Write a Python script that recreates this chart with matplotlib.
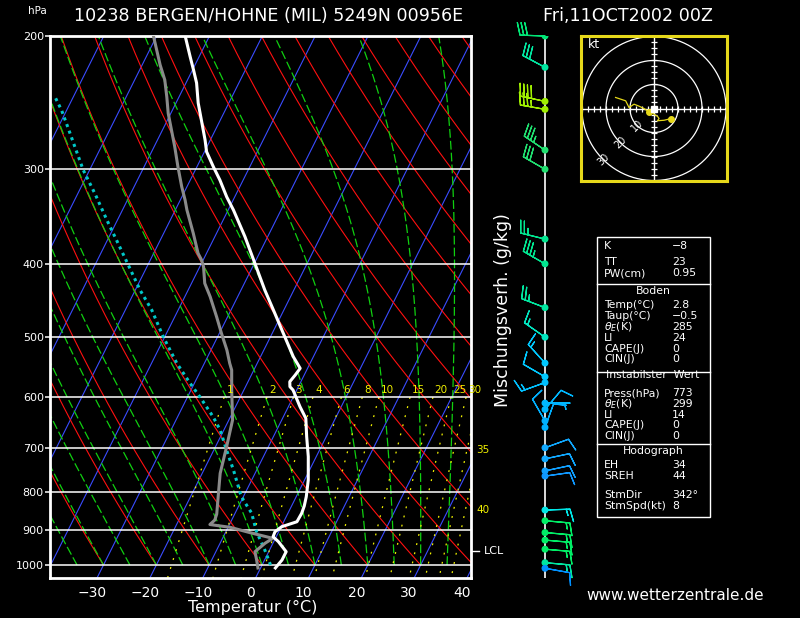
import numpy as np
import matplotlib
matplotlib.use("Agg")
import matplotlib.pyplot as plt
from matplotlib.transforms import ScaledTranslation, blended_transform_factory

# ---------------- data ----------------
temp_p = [200.0, 213.0, 221.8, 230.7, 245.2, 260.6, 274.4, 284.4, 297.7, 310.0,
          326.4, 339.6, 368.3, 399.4, 433.2, 465.0, 494.2, 530.6, 549.7, 561.0,
          572.5, 581.3, 587.2, 617.8, 640.0, 676.8, 719.3, 772.1, 812.3, 835.7,
          854.4, 876.6, 890.0, 903.6, 917.5, 931.6, 960.3, 984.9, 1009.0]
temp_t = [-64.6, -61.7, -59.8, -58.0, -55.8, -53.2, -51.0, -49.6, -46.9, -44.4,
          -41.5, -39.0, -34.3, -29.9, -25.5, -21.4, -17.9, -13.8, -11.4, -11.7,
          -12.1, -11.6, -10.7, -7.8, -5.6, -3.7, -1.5, 0.7, 1.9, 2.4,
          2.6, 2.5, 0.1, -0.7, -0.6, 0.9, 3.3, 3.3, 2.8]

dew_p = [200.0, 218.4, 228.6, 240.8, 253.0, 266.2, 280.1, 297.7, 316.3, 329.4,
         339.6, 364.5, 387.4, 395.4, 403.5, 424.4, 442.1, 469.8, 494.2, 519.9,
         541.4, 552.5, 587.2, 643.3, 697.7, 756.6, 808.2, 856.3, 872.1, 884.1,
         887.3, 891.6, 906.4, 922.0, 936.1, 960.3, 984.9, 1009.0]
dew_t = [-70.6, -66.6, -64.3, -62.3, -60.5, -58.3, -56.1, -53.6, -51.0, -49.1,
         -47.8, -44.4, -41.6, -40.3, -39.3, -37.5, -35.2, -32.1, -29.6, -27.0,
         -25.2, -24.2, -22.3, -19.3, -17.9, -16.6, -14.9, -13.4, -13.2, -13.7,
         -12.0, -9.6, -5.3, -0.5, -1.5, -2.6, -1.5, -0.5]

parcel_p = [1000.0, 955.4, 903.6, 853.7, 820.5, 804.0, 749.0, 704.8, 663.2, 636.9,
            599.3, 575.4, 541.4, 499.3, 460.3, 433.2, 401.4, 372.0, 350.1, 323.4,
            300.7, 280.1, 264.8, 250.5, 240.6]
parcel_t = [1.6, -0.9, -4.2, -6.9, -9.7, -10.9, -14.4, -17.6, -20.7, -23.3,
            -27.7, -30.8, -35.2, -40.3, -45.0, -49.1, -53.7, -58.3, -62.0, -66.7,
            -71.2, -75.0, -78.0, -81.0, -83.5]

wind_p = [200, 220, 244, 250, 283, 300, 371, 400, 457, 500, 541, 564, 574, 611,
          623, 645, 658, 700, 724, 751, 763, 846, 874, 906, 927, 953, 993, 1010]
wind_dir = [272, 298, 282, 280, 304, 300, 284, 300, 291, 305, 318, 300, 250, 90,
            40, 330, 20, 70, 78, 78, 82, 88, 95, 95, 95, 95, 95, 100]
wind_spd = [30, 30, 40, 35, 35, 30, 25, 35, 25, 15, 15, 10, 15, 5,
            10, 10, 10, 10, 10, 10, 10, 15, 15, 15, 15, 15, 15, 10]
wind_col = ["#00e676", "#00e6a0", "#a0f000", "#a0f000", "#20e070", "#20e070",
            "#00e690", "#00e690", "#00e6a0", "#00e6c0", "#00c8ff", "#00c8ff",
            "#00c0ff", "#00b8ff", "#00b8ff", "#00b0ff", "#00b0ff", "#10a8ff",
            "#10a8ff", "#10a0ff", "#1098ff", "#00e6e6", "#00ee66", "#00ee66",
            "#00ee66", "#00ee66", "#00e6a0", "#0090ff"]

hodo_u = [-16.0, -11.8, -10.4, -8.3, -6.3, -4.2, -2.1, -0.7, 0.0, 1.4, 2.1, 1.4, 4.2, 7.0]
hodo_v = [4.6, 3.2, 0.4, 1.8, 1.0, 0.0, -1.4, -1.4, -2.4, -3.2, -4.2, -5.1, -4.9, -4.2]
hodo_dot_u = [-2.1, 7.0]
hodo_dot_v = [-1.4, -4.2]
hodo_rings = [10, 20, 30]

p_ticks = [200, 300, 400, 500, 600, 700, 800, 900, 1000]
t_ticks = [-30, -20, -10, 0, 10, 20, 30, 40]
mix_ratios = [1, 2, 3, 4, 6, 8, 10, 15, 20, 25, 30, 35, 40]
dry_thetas = list(range(-40, 160, 10))
moist_thetas = list(range(-40, 40, 5))
isotherms = list(range(-140, 50, 10))
lcl_p = 958

title_left = "10238 BERGEN/HOHNE (MIL) 5249N 00956E"
title_right = "Fri,11OCT2002 00Z"

tab1 = [("K", "\u22128"), ("TT", "23"), ("PW(cm)", "0.95")]
tab2 = [("Temp(\u00b0C)", "2.8"), ("Taup(\u00b0C)", "\u22120.5"), (r"$\theta_E$(K)", "285"),
        ("LI", "24"), ("CAPE(J)", "0"), ("CIN(J)", "0")]
tab3 = [("Press(hPa)", "773"), (r"$\theta_E$(K)", "299"), ("LI", "14"),
        ("CAPE(J)", "0"), ("CIN(J)", "0")]
tab4 = [("EH", "34"), ("SREH", "44"), ("StmDir", "342\u00b0"), ("StmSpd(kt)", "8")]

# ---------------- geometry ----------------
W, H = 800, 618
SKEW = 31.1
PB = 1040.0
PBOT, PTOP = 1040.3, 200.0


def skx(t, p):
    return np.asarray(t) + SKEW * np.log(PB / np.asarray(p))


def fx(x):
    return x / W


def fy(y):
    return 1 - y / H


plt.rcParams['font.family'] = ['DejaVu Sans']
fig = plt.figure(figsize=(8, 6.18), dpi=100, facecolor='black')

ax = fig.add_axes([50 / W, (H - 578) / H, 421 / W, 542 / H])
ax.set_facecolor('black')
ax.set_yscale('log')
ax.set_ylim(PBOT, PTOP)
ax.set_xlim(-38.9, 40.75)

pp = np.geomspace(PTOP, PBOT, 300)
# isotherms
for t in isotherms:
    ax.plot(skx(t, pp), pp, color='#3a4cff', lw=0.8, zorder=1)
# dry adiabats
pd = np.geomspace(PTOP, 1000, 300)
for th in dry_thetas:
    tt = (th + 273.15) * (pd / 1000.0) ** 0.2857 - 273.15
    ax.plot(skx(tt, pd), pd, color='#ff1010', lw=0.8, zorder=1)

# moist adiabats (pseudo-adiabatic integration)
Rd, Cp, Lv, eps = 287.04, 1005.7, 2.501e6, 0.622


def lapse(T, p):
    es = 6.112 * np.exp(17.67 * (T - 273.15) / (T - 29.65))
    rs = eps * es / (p - es)
    return (Rd * T + Lv * rs) / (Cp + Lv * Lv * rs * eps / (Rd * T * T)) / p


pm = np.linspace(1000, 200, 401)
Tm = np.array(moist_thetas, dtype=float) + 273.15
rows = [Tm.copy()]
for i in range(1, len(pm)):
    dp = pm[i] - pm[i - 1]
    k1 = lapse(Tm, pm[i - 1])
    k2 = lapse(Tm + k1 * dp, pm[i])
    Tm = Tm + 0.5 * (k1 + k2) * dp
    rows.append(Tm.copy())
rows = np.array(rows) - 273.15
for j in range(rows.shape[1]):
    ax.plot(skx(rows[:, j], pm), pm, color='#10d010', lw=0.9,
            dashes=(7, 2.5), zorder=1)

# mixing ratio lines
pw = np.geomspace(600, PBOT, 60)


def t_mix(w, p):
    e = w * p / (622.0 + w)
    ln = np.log(e / 6.112)
    return 243.5 * ln / (17.67 - ln)


for w in mix_ratios:
    ax.plot(skx(t_mix(w, pw), pw), pw, color='#f0f000', lw=0.9,
            dashes=(1.5, 6), zorder=1)
for w in mix_ratios[:-2]:
    xl = skx(t_mix(w, 587.0), 587.0)
    ax.text(xl, 587.0, str(w), color='#f0f000', fontsize=7.5, ha='left',
            va='center', clip_on=False, zorder=5)
btr = blended_transform_factory(ax.transAxes, ax.transData)
for w, pl in zip(mix_ratios[-2:], [704.0, 846.0]):
    ax.text(1.013, pl, str(w), color='#f0f000', fontsize=7.5, ha='left',
            va='center', transform=btr, clip_on=False)

# isobars
for p in p_ticks[1:]:
    ax.axhline(p, color='white', lw=1.1, zorder=2)

# profiles
ax.plot(skx(parcel_t, parcel_p), parcel_p, color='#00c8c8', lw=2.2,
        dashes=(1, 1.3), dash_capstyle='butt', zorder=3)
ax.plot(skx(dew_t, dew_p), dew_p, color='#8a8a8a', lw=2.2, zorder=4)
ax.plot(skx(temp_t, temp_p), temp_p, color='white', lw=2.2, zorder=5)

# LCL
ax.plot([1.0, 1.018], [lcl_p, lcl_p], transform=btr, color='white', lw=1,
        clip_on=False)
ax.text(1.03, lcl_p, "LCL", transform=btr, color='white', fontsize=8,
        ha='left', va='center', clip_on=False)

# axes styling
for s in ax.spines.values():
    s.set_color('white')
    s.set_linewidth(2)
ax.yaxis.set_minor_locator(matplotlib.ticker.NullLocator())
ax.set_yticks(p_ticks)
ax.set_yticklabels([str(p) for p in p_ticks])
ax.tick_params(axis='y', colors='white', labelsize=8, length=3.5, width=1.1, pad=1)
ax.set_xticks(t_ticks)
ax.set_xticklabels([str(t).replace('-', '\u2212') for t in t_ticks])
ax.tick_params(axis='x', colors='white', labelsize=10, length=0, pad=6)
for lab in ax.get_xticklabels():
    lab.set_transform(lab.get_transform() + ScaledTranslation(-0.05, 0, fig.dpi_scale_trans))

# ---------------- wind barbs ----------------
ax2 = fig.add_axes([490 / W, (H - 578) / H, 90 / W, 542 / H])
ax2.set_yscale('log')
ax2.set_ylim(PBOT, PTOP)
ax2.set_xlim(490, 580)
ax2.axis('off')
ax2.plot([545, 545], [PTOP, PBOT], color='white', lw=1.2, zorder=1)
rad = np.deg2rad(wind_dir)
u = -np.array(wind_spd) * np.sin(rad)
v = -np.array(wind_spd) * np.cos(rad)
xs = np.full(len(wind_p), 545.0)
ax2.barbs(xs, wind_p, u, v, barbcolor=wind_col, flagcolor=wind_col,
          length=6.0, linewidth=0.9, sizes=dict(spacing=0.15, height=0.5),
          zorder=2, clip_on=False)
ax2.scatter(xs, wind_p, c=wind_col, s=16, zorder=3)

# ---------------- hodograph ----------------
ax3 = fig.add_axes([581 / W, (H - 181) / H, 146 / W, 145 / H])
ax3.set_facecolor('black')
ax3.set_xlim(-30.4, 30.4)
ax3.set_ylim(-30.2, 30.2)
ax3.set_xticks([])
ax3.set_yticks([])
for s in ax3.spines.values():
    s.set_color('#e6d81a')
    s.set_linewidth(2.2)
ang = np.linspace(0, 2 * np.pi, 200)
for r in hodo_rings:
    ax3.plot(r * np.cos(ang), r * np.sin(ang), color='white', lw=0.9)
ax3.axhline(0, color='white', lw=1)
ax3.axvline(0, color='white', lw=1)
tk = [k * 2.5 for k in range(-12, 13) if k != 0]
ax3.plot(tk, [0] * len(tk), ls='none', marker='|', ms=4, mew=0.9, color='white')
ax3.plot([0] * len(tk), tk, ls='none', marker='_', ms=4, mew=0.9, color='white')
for r in hodo_rings:
    c = -r / np.sqrt(2)
    ax3.text(c, c, str(r), color='white', fontsize=7, rotation=45,
             ha='center', va='center')
ax3.plot(hodo_u, hodo_v, color='#e6d81a', lw=0.9)
ax3.plot(hodo_dot_u, hodo_dot_v, ls='none', marker='o', ms=4, color='#e6d81a')
ax3.plot([0], [0], marker='s', ms=5, color='white', ls='none')
fig.text(fx(588), fy(44), "kt", color='white', fontsize=9, va='center', ha='left')

# ---------------- table ----------------
lw_t = 1.0
fig.add_artist(plt.Rectangle((fx(597), fy(517)), 113 / W, 280 / H, fill=False,
                             edgecolor='white', lw=lw_t, transform=fig.transFigure))
for yy in [283.5, 371.5, 443.5]:
    fig.add_artist(plt.Line2D([fx(597), fx(710)], [fy(yy), fy(yy)], color='white',
                              lw=lw_t, transform=fig.transFigure))


def row(lbl, val, y):
    fig.text(fx(604), fy(y), lbl, color='white', fontsize=7.8, va='center', ha='left')
    fig.text(fx(672), fy(y), val, color='white', fontsize=7.8, va='center', ha='left')


for (l, vv), y in zip(tab1, [246, 262, 273]):
    row(l, vv, y)
fig.text(fx(653), fy(291), "Boden", color='white', fontsize=7.8, ha='center', va='center')
for (l, vv), y in zip(tab2, [305, 316, 327, 338, 348.5, 359.5]):
    row(l, vv, y)
fig.text(fx(653), fy(375), "Instabilster  Wert", color='white', fontsize=7.8,
         ha='center', va='center')
for (l, vv), y in zip(tab3, [393.5, 404, 414.5, 425, 436]):
    row(l, vv, y)
fig.text(fx(653), fy(451), "Hodograph", color='white', fontsize=7.8, ha='center', va='center')
for (l, vv), y in zip(tab4, [465, 476, 495.5, 506]):
    row(l, vv, y)

# ---------------- texts ----------------
fig.text(fx(269), fy(16), title_left, color='white', fontsize=12.6, ha='center', va='center')
fig.text(fx(628), fy(16), title_right, color='white', fontsize=12.6, ha='center', va='center')
fig.text(fx(37), fy(11), "hPa", color='white', fontsize=7.5, ha='center', va='center')
fig.text(fx(253), fy(607), "Temperatur (\u00b0C)", color='white', fontsize=11.5,
         ha='center', va='center')
fig.text(fx(675), fy(595), "www.wetterzentrale.de", color='white', fontsize=11,
         ha='center', va='center')
fig.text(fx(503), fy(310), "Mischungsverh. (g/kg)", color='white', fontsize=12.5,
         rotation=90, ha='center', va='center')

fig.savefig("out.png", dpi=100, facecolor='black')
